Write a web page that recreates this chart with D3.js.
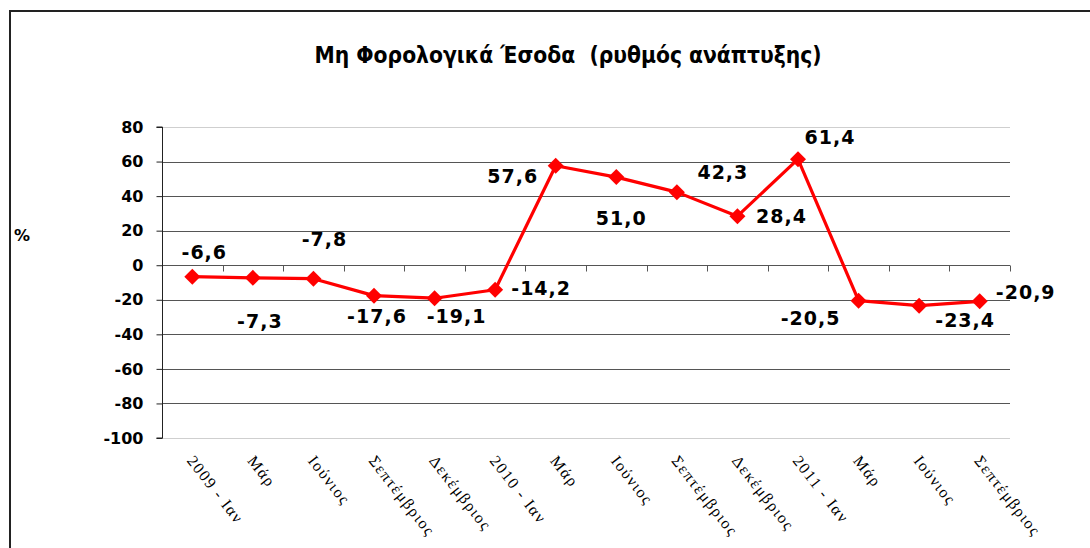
<!DOCTYPE html>
<html>
<head>
<meta charset="utf-8">
<script src="https://cdn.jsdelivr.net/npm/d3@7/dist/d3.min.js"></script>
<style>
  html, body { margin: 0; padding: 0; background: #fff; }
  svg { display: block; }
</style>
</head>
<body>
<svg id="chart" width="1090" height="548"></svg>
<script>
// ---- data ----
const categories = ["2009 - Ιαν", "Μάρ", "Ιούνιος", "Σεπτέμβριος", "Δεκέμβριος",
                    "2010 - Ιαν", "Μάρ", "Ιούνιος", "Σεπτέμβριος", "Δεκέμβριος",
                    "2011 - Ιαν", "Μάρ", "Ιούνιος", "Σεπτέμβριος"];
const values = [-6.6, -7.3, -7.8, -17.6, -19.1, -14.2, 57.6, 51.0, 42.3, 28.4, 61.4, -20.5, -23.4, -20.9];
const yTicks = [-100, -80, -60, -40, -20, 0, 20, 40, 60, 80];
const titleText = "Μη Φορολογικά Έσοδα  (ρυθμός ανάπτυξης)";
const yAxisTitle = "%";

// ---- layout (label offsets relative to each point: [dx, dy]) ----
const labelOffsets = [[12,-18],[7,50],[11,-33],[3,27],[22,25],[46,5],[-43,17],
                      [5,48],[46,-13],[44,7],[32,-15],[-48,24],[46,21],[46,-2]];

const svg = d3.select("#chart");
const W = 1090, H = 548;
const plot = {left: 162, right: 1010, top: 127, bottom: 438};

// outer frame
svg.append("rect").attr("x", 10).attr("y", 11).attr("width", W + 20).attr("height", H + 20)
  .attr("fill", "none").attr("stroke", "#222").attr("stroke-width", 2);

// title
svg.append("text").attr("x", 568).attr("y", 63).attr("text-anchor", "middle")
  .style("white-space", "pre").attr("xml:space", "preserve")
  .attr("font-family", "'DejaVu Sans', sans-serif").attr("font-weight", "bold")
  .attr("font-size", 23).attr("textLength", 507).attr("lengthAdjust", "spacingAndGlyphs")
  .attr("fill", "#000").text(titleText);

// y axis title
svg.append("text").attr("x", 14).attr("y", 241)
  .attr("font-family", "'DejaVu Sans', sans-serif").attr("font-weight", "bold")
  .attr("font-size", 16).attr("fill", "#000").text(yAxisTitle);

const x = d3.scaleBand().domain(d3.range(categories.length)).range([plot.left, plot.right]);
const y = d3.scaleLinear().domain([-100, 80]).range([plot.bottom, plot.top]);
const cx = i => x(i) + x.bandwidth() / 2;

// gridlines
svg.append("g").selectAll("line").data(yTicks).join("line")
  .attr("x1", plot.left).attr("x2", plot.right)
  .attr("y1", d => Math.round(y(d)) + 0.5).attr("y2", d => Math.round(y(d)) + 0.5)
  .attr("stroke", d => (d === 80 || d === -100) ? "#cfcfcf" : "#555")
  .attr("stroke-width", 1);

// y axis
const yAxis = d3.axisLeft(y).tickValues(yTicks).tickSize(6).tickPadding(13).tickFormat(d3.format("d"));
const gy = svg.append("g").attr("transform", `translate(${plot.left + 0.5},0)`).call(yAxis);
gy.select(".domain").attr("stroke", "#222").attr("d", `M-6,${y(80)}H0V${y(-100)}H-6`);
gy.selectAll(".tick line").attr("stroke", "#222");
gy.selectAll(".tick text").attr("font-family", "'DejaVu Sans', sans-serif")
  .attr("font-weight", "bold").attr("font-size", 16).attr("fill", "#000")
  .text(d => d < 0 ? "-" + Math.abs(d) : d);

// x axis on zero line
const xBounds = d3.range(1, categories.length + 1).map(i => plot.left + i * x.bandwidth());
const zeroY = Math.round(y(0)) + 0.5;
svg.append("g").selectAll("line").data(xBounds).join("line")
  .attr("x1", d => Math.round(d) + 0.5).attr("x2", d => Math.round(d) + 0.5)
  .attr("y1", zeroY).attr("y2", zeroY + 6)
  .attr("stroke", "#555").attr("stroke-width", 1);

// x labels
svg.append("g").selectAll("text").data(categories).join("text")
  .attr("transform", (d, i) => `translate(${cx(i) + 4},${453}) rotate(52)`)
  .attr("dy", "0.8em")
  .attr("font-family", "'Liberation Serif', 'Times New Roman', serif")
  .attr("font-size", 16).attr("letter-spacing", 1.5).attr("fill", "#000")
  .text(d => d);

// line
const line = d3.line().x((d, i) => cx(i)).y(d => y(d));
svg.append("path").datum(values).attr("d", line)
  .attr("fill", "none").attr("stroke", "#ff0000").attr("stroke-width", 3.2)
  .attr("stroke-linejoin", "round");

// markers (diamonds)
svg.append("g").selectAll("path").data(values).join("path")
  .attr("transform", (d, i) => `translate(${cx(i)},${y(d)})`)
  .attr("d", "M0,-8L8,0L0,8L-8,0Z")
  .attr("fill", "#ff0000");

// data labels
const fmt = v => v.toFixed(1).replace(".", ",");
svg.append("g").selectAll("text").data(values).join("text")
  .attr("x", (d, i) => cx(i) + labelOffsets[i][0])
  .attr("y", (d, i) => y(d) + labelOffsets[i][1])
  .attr("text-anchor", "middle")
  .attr("font-family", "'DejaVu Sans', sans-serif").attr("font-weight", "bold")
  .attr("font-size", 19).attr("letter-spacing", 1).attr("fill", "#000")
  .text(fmt);
</script>
</body>
</html>
